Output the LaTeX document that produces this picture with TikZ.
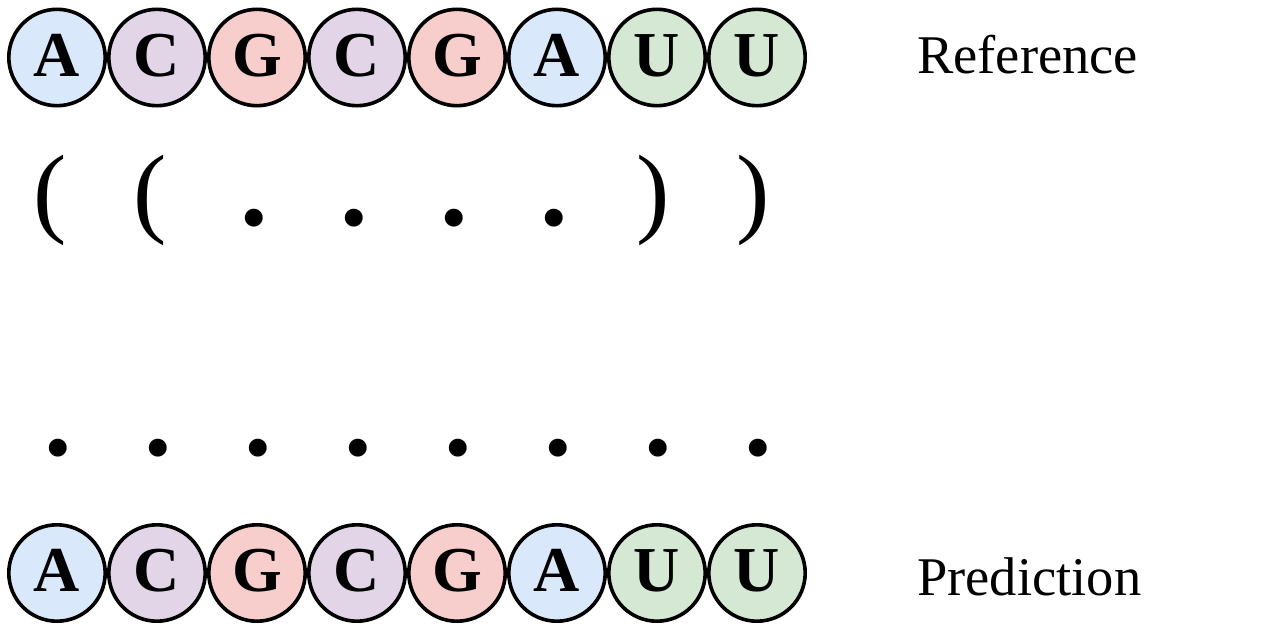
\documentclass[tikz,border=0pt]{standalone}
\usepackage{fontspec}
\setmainfont{Liberation Serif}
\definecolor{cA}{HTML}{DAE8FC}
\definecolor{cC}{HTML}{E1D5E7}
\definecolor{cG}{HTML}{F8CECC}
\definecolor{cU}{HTML}{D5E8D4}
\begin{document}
\begin{tikzpicture}[x=1pt,y=-1pt,
  base/.style={circle, draw=black, line width=3.6pt, minimum size=96.4pt, inner sep=0pt,
    text height=43pt, text depth=6pt, font=\fontsize{64}{64}\selectfont\bfseries},
  nA/.style={base, fill=cA},
  nC/.style={base, fill=cC},
  nG/.style={base, fill=cG},
  nU/.style={base, fill=cU},
  paren/.style={anchor=base, inner sep=0pt, font=\fontsize{100}{100}\selectfont},
  dotsym/.style={anchor=base, inner sep=0pt, font=\fontsize{110}{110}\selectfont\bfseries},
  lbl/.style={anchor=base west, inner sep=0pt, font=\fontsize{54.5}{54.5}\selectfont}]
\useasboundingbox (0,0) rectangle (1275,640);
% reference sequence
\foreach \l [count=\i] in {A,C,G,C,G,A,U,U}
  \node[n\l] (r\i) at ({57+100*(\i-1)},57.5) {\l};
% prediction sequence
\foreach \l [count=\i] in {A,C,G,C,G,A,U,U}
  \node[n\l] (p\i) at ({57+100*(\i-1)},573) {\l};
% reference structure
\node[paren] (s1) at (50,224) {(};
\node[paren] (s2) at (150,224) {(};
\node[dotsym] (s3) at (254,225) {.};
\node[dotsym] (s4) at (354,225) {.};
\node[dotsym] (s5) at (454,225) {.};
\node[dotsym] (s6) at (554,225) {.};
\node[paren] (s7) at (653,224) {)};
\node[paren] (s8) at (753,224) {)};
% predicted structure
\foreach \i in {1,...,8}
  \node[dotsym] (q\i) at ({58+100*(\i-1)},455) {.};
% labels
\node[lbl] (lref) at (917,73) {Reference};
\node[lbl] (lpred) at (917,595) {Prediction};
\end{tikzpicture}
\end{document}
